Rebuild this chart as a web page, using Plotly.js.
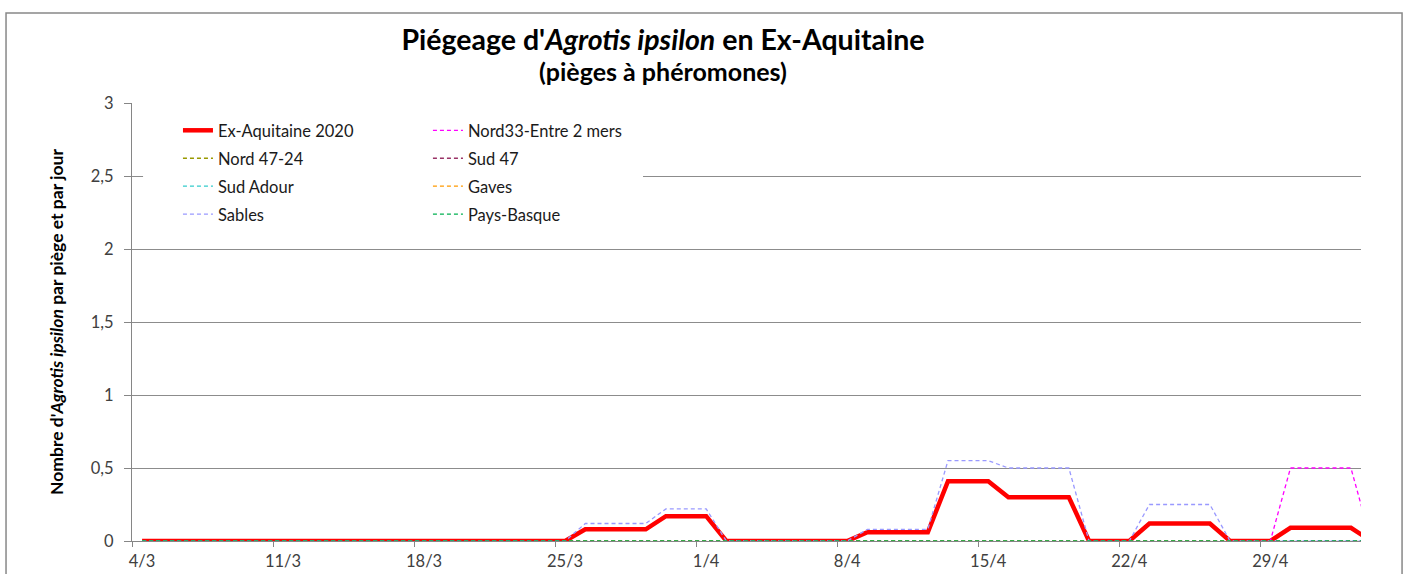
<!DOCTYPE html>
<html><head><meta charset="utf-8">
<script src="https://cdn.plot.ly/plotly-3.0.1.min.js"></script>
<style>html,body{margin:0;padding:0;background:#fff}#chart{width:1407px;height:574px}</style>
</head><body><div id="chart"></div>
<script>
// Daily dates (one point per day, drawn at the centre of the day slot)
const dates = [
 '2020-03-04','2020-03-05','2020-03-06','2020-03-07','2020-03-08','2020-03-09','2020-03-10',
 '2020-03-11','2020-03-12','2020-03-13','2020-03-14','2020-03-15','2020-03-16','2020-03-17',
 '2020-03-18','2020-03-19','2020-03-20','2020-03-21','2020-03-22','2020-03-23','2020-03-24',
 '2020-03-25','2020-03-26','2020-03-27','2020-03-28','2020-03-29','2020-03-30','2020-03-31',
 '2020-04-01','2020-04-02','2020-04-03','2020-04-04','2020-04-05','2020-04-06','2020-04-07',
 '2020-04-08','2020-04-09','2020-04-10','2020-04-11','2020-04-12','2020-04-13','2020-04-14',
 '2020-04-15','2020-04-16','2020-04-17','2020-04-18','2020-04-19','2020-04-20','2020-04-21',
 '2020-04-22','2020-04-23','2020-04-24','2020-04-25','2020-04-26','2020-04-27','2020-04-28',
 '2020-04-29','2020-04-30','2020-05-01','2020-05-02','2020-05-03','2020-05-04'
];

const exAquitaine2020 = [
 0,0,0,0,0,0,0,
 0,0,0,0,0,0,0,
 0,0,0,0,0,0,0,
 0,0.08,0.08,0.08,0.08,0.17,0.17,
 0.17,0,0,0,0,0,0,
 0,0.06,0.06,0.06,0.06,0.41,0.41,
 0.41,0.3,0.3,0.3,0.3,0,0,
 0,0.12,0.12,0.12,0.12,0,0,
 0,0.09,0.09,0.09,0.09,0
];
const nord33 = [
 0,0,0,0,0,0,0, 0,0,0,0,0,0,0, 0,0,0,0,0,0,0, 0,0,0,0,0,0,0,
 0,0,0,0,0,0,0, 0,0,0,0,0,0,0, 0,0,0,0,0,0,0, 0,0,0,0,0,0,0,
 0,0.5,0.5,0.5,0.5,0
];
const nord4724 = [
 0,0,0,0,0,0,0, 0,0,0,0,0,0,0, 0,0,0,0,0,0,0, 0,0,0,0,0,0,0,
 0,0,0,0,0,0,0, 0,0,0,0,0,0,0, 0,0,0,0,0,0,0, 0,0,0,0,0,0,0,
 0,0,0,0,0,0
];
const sud47 = [
 0,0,0,0,0,0,0, 0,0,0,0,0,0,0, 0,0,0,0,0,0,0, 0,0,0,0,0,0,0,
 0,0,0,0,0,0,0, 0,0,0,0,0,0,0, 0,0,0,0,0,0,0, 0,0,0,0,0,0,0,
 0,0,0,0,0,0
];
const sudAdour = [
 0,0,0,0,0,0,0, 0,0,0,0,0,0,0, 0,0,0,0,0,0,0, 0,0,0,0,0,0,0,
 0,0,0,0,0,0,0, 0,0,0,0,0,0,0, 0,0,0,0,0,0,0, 0,0,0,0,0,0,0,
 0,0,0,0,0,0
];
const gaves = [
 0,0,0,0,0,0,0, 0,0,0,0,0,0,0, 0,0,0,0,0,0,0, 0,0,0,0,0,0,0,
 0,0,0,0,0,0,0, 0,0,0,0,0,0,0, 0,0,0,0,0,0,0, 0,0,0,0,0,0,0,
 0,0,0,0,0,0
];
const sables = [
 0,0,0,0,0,0,0,
 0,0,0,0,0,0,0,
 0,0,0,0,0,0,0,
 0,0.12,0.12,0.12,0.12,0.22,0.22,
 0.22,0,0,0,0,0,0,
 0,0.08,0.08,0.08,0.08,0.55,0.55,
 0.55,0.5,0.5,0.5,0.5,0,0,
 0,0.25,0.25,0.25,0.25,0,0,
 0,0,0,0,0,0
];
const paysBasque = [
 0,0,0,0,0,0,0, 0,0,0,0,0,0,0, 0,0,0,0,0,0,0, 0,0,0,0,0,0,0,
 0,0,0,0,0,0,0, 0,0,0,0,0,0,0, 0,0,0,0,0,0,0, 0,0,0,0,0,0,0,
 0,0,0,0,0,0
];

const xRange = ['2020-03-04', '2020-05-04'];
const yTickLabels = ['0','0,5','1','1,5','2','2,5','3'];
const yTickVals = [0,0.5,1,1.5,2,2.5,3];

const xMid = dates.map(d => d + ' 12:00');
const DASH = '4px,3px';

function dashed(name, y, color, legend) {
  return {x: xMid, y: y, name: name, type: 'scatter', mode: 'lines',
          line: {color: color, width: 1.3, dash: DASH},
          legend: legend, legendgroup: name, hoverinfo: 'skip'};
}

const traces = [
  {x: xMid, y: exAquitaine2020, name: 'Ex-Aquitaine 2020', type: 'scatter', mode: 'lines',
   line: {color: '#FF0000', width: 4.5}, legend: 'legend', legendgroup: 'Ex-Aquitaine 2020', hoverinfo: 'skip'},
  dashed('Nord33-Entre 2 mers', nord33, '#FF00FF', 'legend2'),
  dashed('Nord 47-24', nord4724, '#999900', 'legend'),
  dashed('Sud 47', sud47, '#993366', 'legend2'),
  dashed('Sud Adour', sudAdour, '#33CCCC', 'legend'),
  dashed('Gaves', gaves, '#FF9900', 'legend2'),
  dashed('Sables', sables, '#9999FF', 'legend'),
  dashed('Pays-Basque', paysBasque, '#00B050', 'legend2')
];

const FONT = 'Lato, "Open Sans", sans-serif';
const legendBase = {
  y: 0.977, xanchor: 'left', yanchor: 'top', bgcolor: 'rgba(0,0,0,0)',
  traceorder: 'grouped', tracegroupgap: 3.5, borderwidth: 0,
  font: {family: FONT, size: 16.5, color: '#1a1a1a'}
};

const layout = {
  width: 1407, height: 574,
  margin: {l: 132, r: 46, t: 103, b: 33},
  paper_bgcolor: '#ffffff', plot_bgcolor: '#ffffff',
  separators: ', ',
  showlegend: true,
  title: {
    text: "<b><span style=\"font-size:28.5px\">Piégeage d'<i>Agrotis ipsilon</i> en Ex-Aquitaine</span></b><br><b><span style=\"font-size:25px\">(pièges à phéromones)</span></b>",
    font: {family: FONT, size: 24, color: '#000000'},
    x: 0.4712, xref: 'container', xanchor: 'center',
    y: 0.9129, yref: 'container', yanchor: 'middle'
  },
  xaxis: {
    type: 'date', range: xRange,
    tick0: '2020-03-04', dtick: 7 * 86400000, tickformat: '%-d/%-m',
    ticks: 'outside', ticklen: 5, tickcolor: '#868686', tickwidth: 1,
    ticklabelshift: 10,
    showline: true, linecolor: '#868686', linewidth: 1,
    showgrid: false, zeroline: false, layer: 'below traces',
    tickfont: {family: FONT, size: 16.5, color: '#404040'}
  },
  yaxis: {
    range: [0, 3], tickvals: yTickVals, ticktext: yTickLabels,
    ticks: 'outside', ticklen: 7, tickcolor: '#868686', tickwidth: 1,
    ticklabelstandoff: 7,
    showline: true, linecolor: '#868686', linewidth: 1,
    showgrid: true, gridcolor: '#8c8c8c', gridwidth: 1, zeroline: false,
    layer: 'below traces',
    tickfont: {family: FONT, size: 16.5, color: '#404040'},
    title: {text: "<b>Nombre d'<i>Agrotis ipsilon</i> par piège et par jour</b>",
            font: {family: FONT, size: 17.5, color: '#000000'}, standoff: 22}
  },
  legend: Object.assign({}, legendBase, {x: 0.0374}),
  legend2: Object.assign({}, legendBase, {x: 0.2408}),
  shapes: [
    // white legend box covering the gridline
    {type: 'rect', xref: 'paper', yref: 'paper', x0: 0.009, x1: 0.4158, y0: 0.7055, y1: 0.9795,
     fillcolor: '#ffffff', line: {width: 0}, layer: 'above'},
    // chart area border
    {type: 'rect', xref: 'paper', yref: 'paper', x0: -0.1025, x1: 1.0334, y0: -0.2, y1: 1.2055,
     fillcolor: 'rgba(0,0,0,0)', line: {color: '#888888', width: 1.5}, layer: 'above'}
  ]
};

Plotly.newPlot('chart', traces, layout, {staticPlot: true, displayModeBar: false});
</script>
</body></html>
